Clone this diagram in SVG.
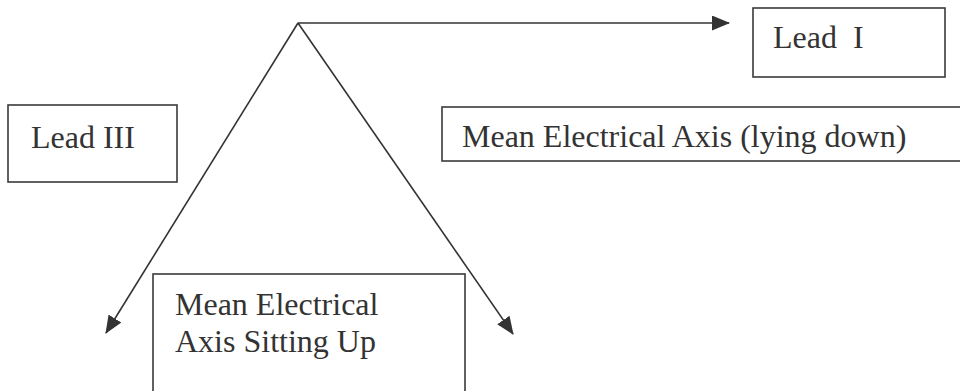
<svg xmlns="http://www.w3.org/2000/svg" width="960" height="391" viewBox="0 0 960 391">
<style>
.box{fill:#fff;stroke:#3a3a3a;stroke-width:1.6}
.t{font-family:"Liberation Serif","Times New Roman",serif;font-size:32px;fill:#333}
.c{stroke:#333;stroke-width:1.6;fill:none}
</style>
<defs>
<marker id="ah" markerUnits="userSpaceOnUse" markerWidth="18" markerHeight="15" refX="17" refY="7.5" orient="auto">
<path d="M0,0 L18,7.5 L0,15 z" fill="#333"/>
</marker>
</defs>
<rect width="960" height="391" fill="#fff"/>
<g id="connectors">
<line class="c" x1="298" y1="23" x2="729" y2="23" marker-end="url(#ah)"/>
<line class="c" x1="298" y1="23" x2="106" y2="333" marker-end="url(#ah)"/>
<line class="c" x1="298" y1="23" x2="513" y2="334" marker-end="url(#ah)"/>
</g>
<g id="lead1">
<rect class="box" x="753" y="8" width="192" height="69"/>
<text class="t" x="773" y="48" xml:space="preserve">Lead  I</text>
</g>
<g id="lead3">
<rect class="box" x="8" y="105" width="169" height="77"/>
<text class="t" x="31" y="148">Lead III</text>
</g>
<g id="mea-lying">
<rect class="box" x="442" y="107" width="530" height="54"/>
<text class="t" x="462" y="147">Mean Electrical Axis (lying down)</text>
</g>
<g id="mea-sitting">
<rect class="box" x="153" y="274" width="312" height="130"/>
<text class="t" x="175" y="315">Mean Electrical</text>
<text class="t" x="175" y="352">Axis Sitting Up</text>
</g>
</svg>
